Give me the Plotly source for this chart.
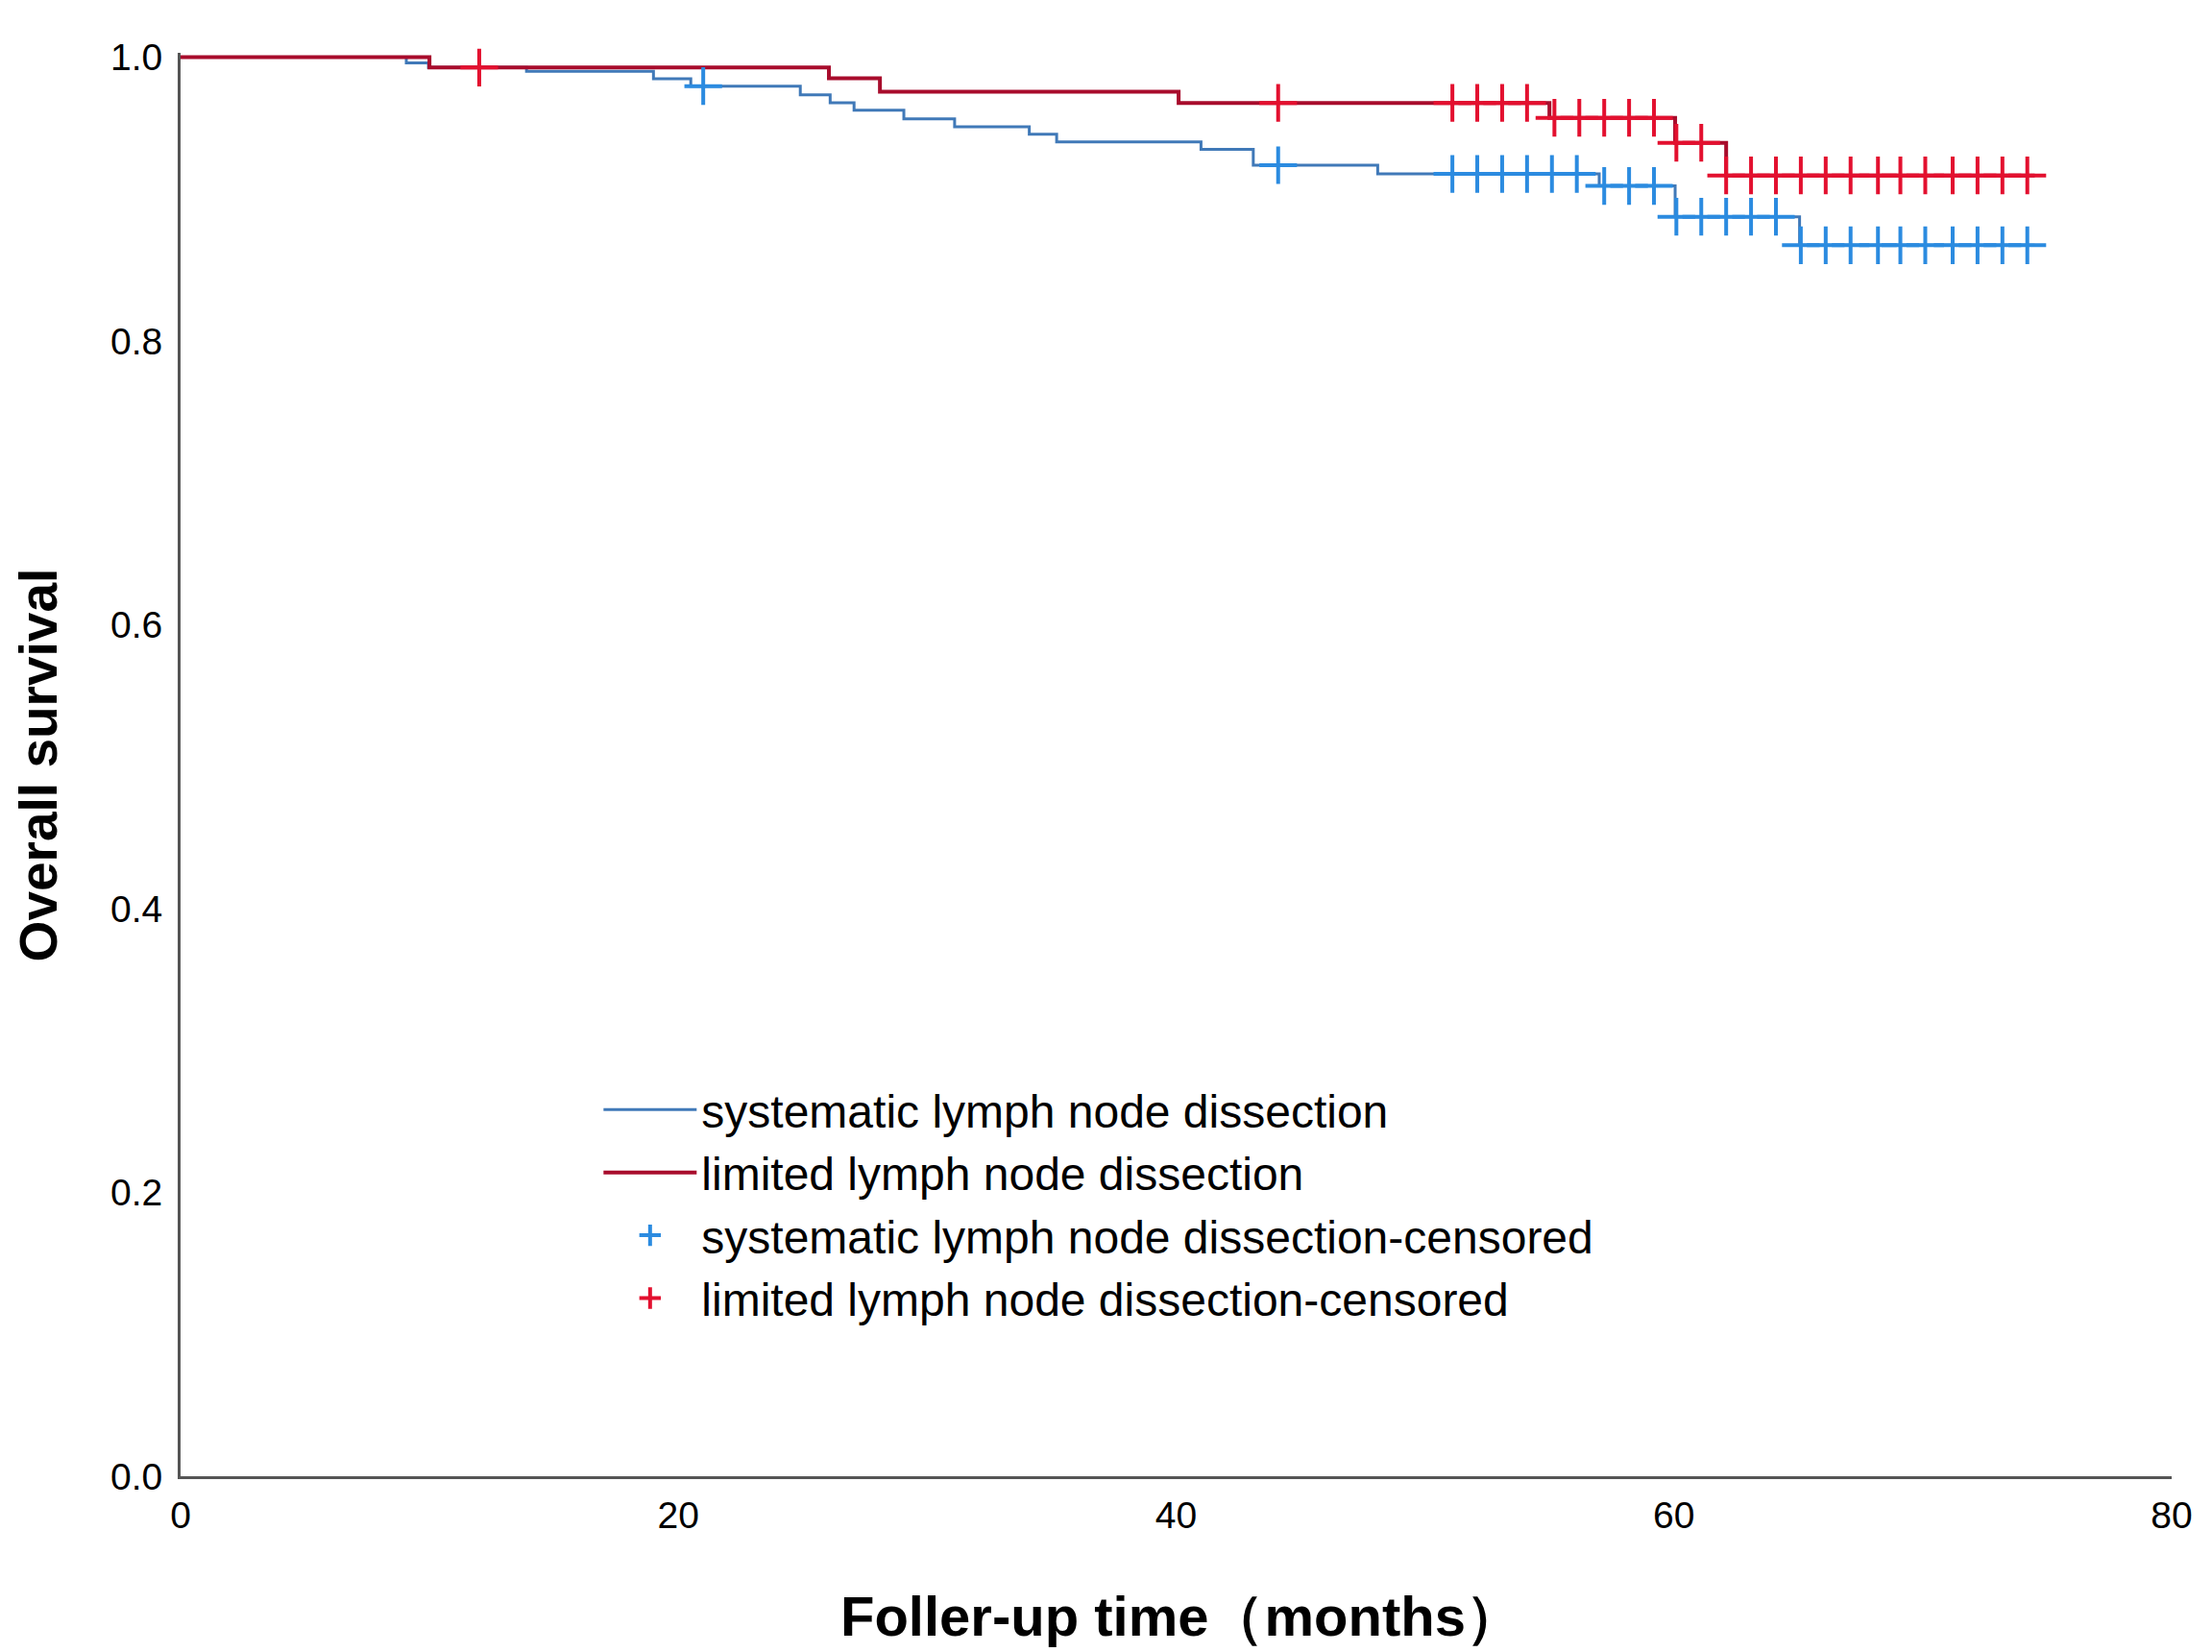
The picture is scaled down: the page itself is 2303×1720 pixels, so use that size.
import plotly.graph_objects as go

# Kaplan-Meier step values
sys_time = [0, 9.07, 9.96, 13.9, 19.0, 20.5, 24.9, 26.1, 27.06, 29.06, 31.1, 34.1,
            35.2, 41.0, 43.1, 48.1, 57.0, 60.05, 65.05, 74.5]
sys_surv = [1.0, 0.9959, 0.9926, 0.990, 0.9847, 0.9795, 0.9734, 0.9678, 0.9626, 0.9565,
            0.9509, 0.9457, 0.9403, 0.935, 0.9238, 0.9177, 0.9092, 0.8875, 0.8674, 0.8674]

lim_time = [0, 10.0, 26.05, 28.1, 40.1, 55.0, 60.05, 62.1, 74.5]
lim_surv = [1.0, 0.9926, 0.985, 0.9756, 0.9677, 0.9572, 0.9396, 0.9166, 0.9166]

# censored observations
sys_cens_time = [21.0, 44.1, 51.1, 52.1, 53.1, 54.1, 55.1, 56.1, 57.2, 58.2, 59.2,
                 60.1, 61.1, 62.1, 63.1, 64.1, 65.1, 66.1, 67.1, 68.2, 69.1, 70.1,
                 71.2, 72.2, 73.2, 74.2]
sys_cens_surv = [0.9795, 0.9238, 0.9177, 0.9177, 0.9177, 0.9177, 0.9177, 0.9177,
                 0.9092, 0.9092, 0.9092, 0.8875, 0.8875, 0.8875, 0.8875, 0.8875,
                 0.8674, 0.8674, 0.8674, 0.8674, 0.8674, 0.8674, 0.8674, 0.8674,
                 0.8674, 0.8674]

lim_cens_time = [12.0, 44.1, 51.1, 52.1, 53.1, 54.1, 55.2, 56.2, 57.2, 58.2, 59.2,
                 60.1, 61.1, 62.1, 63.1, 64.1, 65.1, 66.1, 67.1, 68.2, 69.1, 70.1,
                 71.2, 72.2, 73.2, 74.2]
lim_cens_surv = [0.9926, 0.9677, 0.9677, 0.9677, 0.9677, 0.9677, 0.9572, 0.9572,
                 0.9572, 0.9572, 0.9572, 0.9396, 0.9396, 0.9166, 0.9166, 0.9166,
                 0.9166, 0.9166, 0.9166, 0.9166, 0.9166, 0.9166, 0.9166, 0.9166,
                 0.9166, 0.9166]

x_ticks = [0, 20, 40, 60, 80]
y_ticks = [0.0, 0.2, 0.4, 0.6, 0.8, 1.0]

BLUE_LINE = "#4079b8"
BLUE_CENS = "#2b8be0"
RED_LINE = "#a80c2c"
RED_CENS = "#e3102f"
FONT = "Liberation Sans, Arial, sans-serif"

fig = go.Figure()

fig.add_trace(go.Scatter(
    x=sys_time, y=sys_surv, mode="lines", line_shape="hv",
    line=dict(color=BLUE_LINE, width=3),
    name="systematic lymph node dissection"
))
fig.add_trace(go.Scatter(
    x=lim_time, y=lim_surv, mode="lines", line_shape="hv",
    line=dict(color=RED_LINE, width=4),
    name="limited lymph node dissection"
))
fig.add_trace(go.Scatter(
    x=sys_cens_time, y=sys_cens_surv, mode="markers", cliponaxis=False,
    marker=dict(symbol="cross-thin", size=28, line=dict(width=4, color=BLUE_CENS)),
    name="systematic lymph node dissection-censored"
))
fig.add_trace(go.Scatter(
    x=lim_cens_time, y=lim_cens_surv, mode="markers", cliponaxis=False,
    marker=dict(symbol="cross-thin", size=28, line=dict(width=4, color=RED_CENS)),
    name="limited lymph node dissection-censored"
))

# axis titles
fig.add_annotation(
    text="<b>Overall survival</b>", xref="paper", yref="paper",
    x=-0.0712, y=0.5, xanchor="center", yanchor="middle", textangle=-90,
    showarrow=False, font=dict(family=FONT, size=55, color="#000000")
)
fig.add_annotation(
    text="<b>Foller-up time（months）</b>", xref="paper", yref="paper",
    x=0.5025, y=-0.098, xanchor="center", yanchor="middle",
    showarrow=False, font=dict(family=FONT, size=58, color="#000000")
)

fig.update_xaxes(
    range=[0, 80], tickvals=x_ticks, showgrid=False, zeroline=False,
    showline=True, linecolor="#555555", linewidth=3, mirror=False,
    ticks="outside", ticklen=4, tickcolor="rgba(0,0,0,0)",
    tickfont=dict(family=FONT, size=39, color="#000000")
)
fig.update_yaxes(
    range=[0, 1.003], tickvals=y_ticks, tickformat=".1f", showgrid=False,
    zeroline=False, showline=True, linecolor="#555555", linewidth=3, mirror=False,
    ticks="outside", ticklen=8, tickcolor="rgba(0,0,0,0)",
    tickfont=dict(family=FONT, size=39, color="#000000")
)

fig.update_layout(
    width=2303, height=1720,
    margin=dict(l=180, r=50, t=47, b=191),
    plot_bgcolor="white", paper_bgcolor="white",
    showlegend=True,
    legend=dict(
        x=0.21, y=0.283, xanchor="left", yanchor="top",
        bgcolor="rgba(0,0,0,0)", itemwidth=97,
        font=dict(family=FONT, size=48, color="#000000"),
        tracegroupgap=0
    )
)

fig.write_html("out.html")
